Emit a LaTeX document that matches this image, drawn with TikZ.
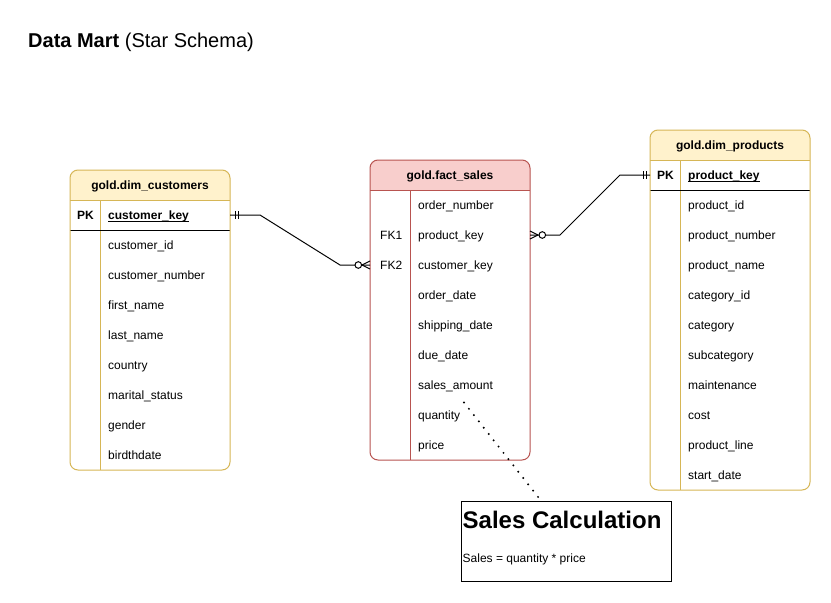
\documentclass[tikz,border=0pt]{standalone}
\usepackage{fontspec}
\setmainfont{Liberation Sans}
\definecolor{yfill}{HTML}{FFF2CC}
\definecolor{ystroke}{HTML}{D6B656}
\definecolor{rfill}{HTML}{F8CECC}
\definecolor{rstroke}{HTML}{B85450}
\tikzset{
  rowtxt/.style={anchor=base west, inner sep=0pt, font=\fontsize{12}{14}\selectfont},
  keytxt/.style={anchor=base west, inner sep=0pt, font=\bfseries\fontsize{12}{14}\selectfont},
  hdrtxt/.style={anchor=base, inner sep=0pt, font=\bfseries\fontsize{12}{14}\selectfont},
  conn/.style={line width=1pt, black},
  tline/.style={line width=1pt},
}
\begin{document}
\begin{tikzpicture}[x=1pt,y=-1pt]
\useasboundingbox[fill=white] (0,0) rectangle (831,603);

% title
\node[anchor=base west, inner sep=0pt, font=\fontsize{20}{24}\selectfont] (title) at (28,47.3) {\textbf{Data Mart} (Star Schema)};

% ---------- gold.dim_customers ----------
\fill[white, rounded corners=8pt] (70,170) rectangle (230,470);
\fill[yfill, rounded corners=8pt] (70,170) rectangle (230,212);
\fill[white] (70,200) rectangle (230,214);
\draw[tline, ystroke] (70,200) -- (230,200);
\draw[tline, ystroke] (100,200) -- (100,470);
\draw[tline, black] (70,230) -- (230,230);
\draw[tline, ystroke, rounded corners=8pt] (70,170) rectangle (230,470);
\node[hdrtxt] (custH) at (150,189.3) {gold.dim\_customers};
\node[keytxt] (custPK) at (77,219.3) {PK};
\node[keytxt] (custKey) at (108,219.3) {customer\_key};
\draw[line width=0.8pt] ([yshift=-1.6pt]custKey.base west) -- ([yshift=-1.6pt]custKey.base east);
\foreach \t [count=\i] in {customer\_id, customer\_number, first\_name, last\_name, country, marital\_status, gender, birdthdate}
  \node[rowtxt] (cust\i) at (108,219.3+30*\i) {\t};

% ---------- gold.fact_sales ----------
\fill[white, rounded corners=8pt] (370,160) rectangle (530,460);
\fill[rfill, rounded corners=8pt] (370,160) rectangle (530,202);
\fill[white] (370,190) rectangle (530,204);
\draw[tline, rstroke] (370,190) -- (530,190);
\draw[tline, rstroke] (410,190) -- (410,460);
\draw[tline, rstroke, rounded corners=8pt] (370,160) rectangle (530,460);
\node[hdrtxt] (factH) at (450,179.3) {gold.fact\_sales};
\node[rowtxt] (fk1) at (380,239.3) {FK1};
\node[rowtxt] (fk2) at (380,269.3) {FK2};
\foreach \t [count=\i] in {order\_number, product\_key, customer\_key, order\_date, shipping\_date, due\_date, sales\_amount, quantity, price}
  \node[rowtxt] (fact\i) at (418,179.3+30*\i) {\t};

% ---------- gold.dim_products ----------
\fill[white, rounded corners=8pt] (650,130) rectangle (810,490);
\fill[yfill, rounded corners=8pt] (650,130) rectangle (810,172);
\fill[white] (650,160) rectangle (810,174);
\draw[tline, ystroke] (650,160) -- (810,160);
\draw[tline, ystroke] (680,160) -- (680,490);
\draw[tline, black] (650,190) -- (810,190);
\draw[tline, ystroke, rounded corners=8pt] (650,130) rectangle (810,490);
\node[hdrtxt] (prodH) at (730,149.3) {gold.dim\_products};
\node[keytxt] (prodPK) at (657,179.3) {PK};
\node[keytxt] (prodKey) at (688,179.3) {product\_key};
\draw[line width=0.8pt] ([yshift=-1.6pt]prodKey.base west) -- ([yshift=-1.6pt]prodKey.base east);
\foreach \t [count=\i] in {product\_id, product\_number, product\_name, category\_id, category, subcategory, maintenance, cost, product\_line, start\_date}
  \node[rowtxt] (prod\i) at (688,179.3+30*\i) {\t};

% ---------- connectors ----------
\coordinate (custOut) at (230,215);
\coordinate (fk2In) at (370,265);
\coordinate (fk1Out) at (530,235);
\coordinate (prodIn) at (650,175);

\draw[conn] (custOut) -- (260,215) -- (340,265) -- (fk2In);
\draw[conn] (235,211) -- (235,219);
\draw[conn] (238,211) -- (238,219);
\draw[conn] (362,265) -- (370,261);
\draw[conn] (362,265) -- (370,269);
\draw[conn, fill=white] (358.3,265) circle[radius=3.3pt];

\draw[conn] (fk1Out) -- (560,235) -- (620,175) -- (prodIn);
\draw[conn] (538,235) -- (530,231);
\draw[conn] (538,235) -- (530,239);
\draw[conn, fill=white] (542.3,235) circle[radius=3.3pt];
\draw[conn] (643,171) -- (643,179);
\draw[conn] (646,171) -- (646,179);

% ---------- note ----------
\node[draw, line width=1pt, minimum width=210pt, minimum height=80pt, anchor=north west, inner sep=0pt] (note) at (460.5,500.5) {};
\node[anchor=base west, inner sep=0pt, font=\bfseries\fontsize{24}{28}\selectfont] (noteT) at (462.5,528.3) {Sales Calculation};
\node[anchor=base west, inner sep=0pt, font=\fontsize{12}{14}\selectfont] (noteB) at (462.5,562.5) {Sales = quantity * price};
\coordinate (dotA) at (464,402.5);
\coordinate (dotB) at (538.5,497.5);
\draw[line width=2.2pt, line cap=round, dash pattern=on 0pt off 8pt] (dotA) -- (dotB);
\end{tikzpicture}
\end{document}
